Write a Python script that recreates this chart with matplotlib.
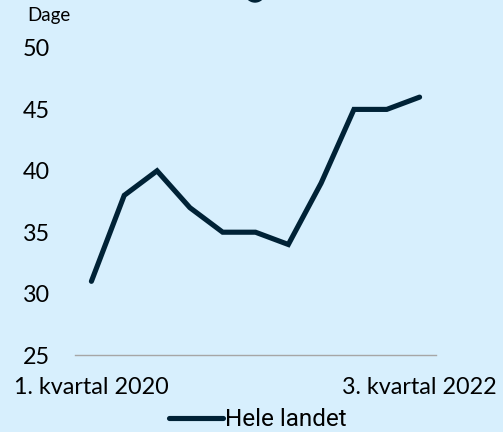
import matplotlib
matplotlib.use("Agg")
import matplotlib.pyplot as plt
import matplotlib.patches as mpatches

# Kvartaler fra 1. kvartal 2020 til 3. kvartal 2022
quarters = [
    "1. kvartal 2020", "2. kvartal 2020", "3. kvartal 2020", "4. kvartal 2020",
    "1. kvartal 2021", "2. kvartal 2021", "3. kvartal 2021", "4. kvartal 2021",
    "1. kvartal 2022", "2. kvartal 2022", "3. kvartal 2022",
]
days = [31, 38, 40, 37, 35, 35, 34, 39, 45, 45, 46]
series_name = "Hele landet"
y_ticks = [25, 30, 35, 40, 45, 50]

bg = "#d7effd"
navy = "#002236"

fig = plt.figure(figsize=(5.03, 4.32), dpi=100, facecolor=bg)
ax = fig.add_axes([0.1491, 0.1782, 0.7177, 0.7107], facecolor=bg)

x = list(range(len(quarters)))
ax.plot(x, days, color=navy, linewidth=3.7, solid_capstyle="round",
        solid_joinstyle="miter", label=series_name)

ax.set_xlim(-0.5, len(quarters) - 0.5)
ax.set_ylim(25, 50)
ax.set_yticks(y_ticks)
ax.set_xticks([0, len(quarters) - 1])
ax.set_xticklabels([quarters[0], quarters[-1]])

for s in ["top", "right", "left"]:
    ax.spines[s].set_visible(False)
ax.spines["bottom"].set_color("#a6a6a6")
ax.spines["bottom"].set_linewidth(1.0)
ax.tick_params(axis="both", length=0, labelsize=16.8, colors="black")
ax.tick_params(axis="y", pad=18)
ax.tick_params(axis="x", pad=16)
for lab in ax.get_xticklabels() + ax.get_yticklabels():
    lab.set_fontfamily("Lato")

fig.text(27 / 503, 1 - 15 / 432, "Dage", fontsize=13.5, family="Lato",
         ha="left", va="center")

leg = fig.legend(handles=ax.get_lines(), loc="center",
                 bbox_to_anchor=(258 / 503, 1 - 420 / 432), frameon=False,
                 prop={"family": "Roboto", "size": 17.5}, handlelength=2.2,
                 handletextpad=0.1, borderpad=0)

# piece of the icon cut off at the top edge
fig.patches.append(mpatches.Ellipse((255 / 503, 1 + 8 / 432), 20 / 503, 20 / 432,
                                    transform=fig.transFigure, color=navy))

fig.savefig("out.png", dpi=100, facecolor=bg)
